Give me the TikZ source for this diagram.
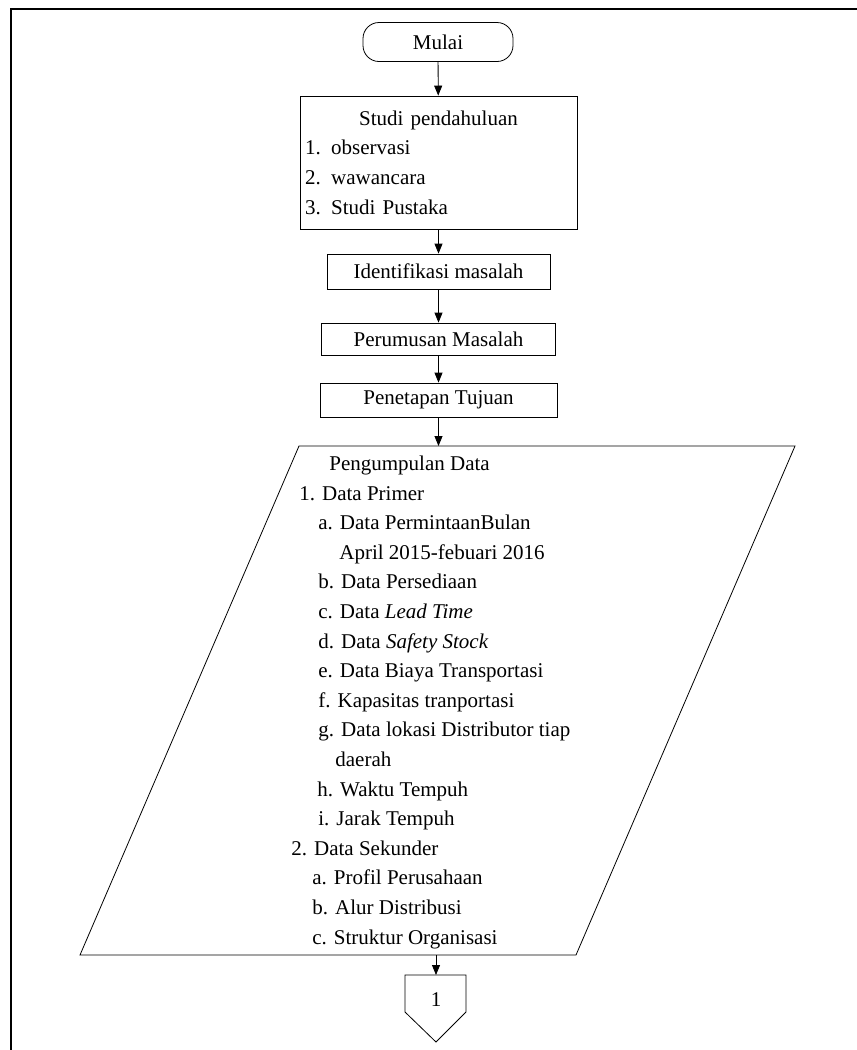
\documentclass[tikz,border=0pt]{standalone}
\usepackage{fontspec}
\setmainfont{Liberation Serif}
\usetikzlibrary{arrows.meta}

\begin{document}
\begin{tikzpicture}[x=1pt, y=-1pt, line width=0.8pt,
    every node/.style={font=\fontsize{21pt}{29.6pt}\selectfont},
    terminal/.style={draw, rounded corners=16pt, minimum width=150pt, minimum height=39pt, inner sep=0pt},
    process/.style={draw, minimum height=34pt, inner sep=0pt},
    arr/.style={-{Triangle[length=10pt,width=8pt]}}]
    \useasboundingbox (0,0) rectangle (857,1050);
    % frame
    \draw[line width=2pt] (11,1050) -- (11,9) -- (857,9);

    \node[terminal] (mulai) at (438,42) {Mulai};
    \node[process, minimum width=277pt, minimum height=133pt, text width=267pt, align=left] (studi) at (438.5,162.5)
        {\makebox[267pt][c]{Studi pendahuluan}\\1. observasi\\2. wawancara\\3. Studi Pustaka};
    \node[process, minimum width=223pt, minimum height=35pt] (ident) at (438.5,271.5) {Identifikasi masalah};
    \node[process, minimum width=234pt, minimum height=32pt] (rumus) at (438.5,339) {Perumusan Masalah};
    \node[process, minimum width=237pt, minimum height=34pt] (tujuan) at (438.5,400) {Penetapan Tujuan};

    % pengumpulan data
    \coordinate (dtop) at (438.5,446);
    \coordinate (dbot) at (436,955);
    \draw (299,446) -- (795,446) -- (576,955) -- (80,955) -- cycle;
    \node[anchor=north west, align=left, inner sep=0pt] (data) at (291,455.5) {%
        \hspace*{38pt}Pengumpulan Data\\
        \hspace*{8pt}1. Data Primer\\
        \hspace*{27pt}a. Data PermintaanBulan\\
        \hspace*{48pt}April 2015-febuari 2016\\
        \hspace*{27pt}b. Data Persediaan\\
        \hspace*{27pt}c. Data \textit{Lead Time}\\
        \hspace*{27pt}d. Data \textit{Safety Stock}\\
        \hspace*{27pt}e. Data Biaya Transportasi\\
        \hspace*{27pt}f. Kapasitas tranportasi\\
        \hspace*{27pt}g. Data lokasi Distributor tiap\\
        \hspace*{44pt}daerah\\
        \hspace*{26pt}h. Waktu Tempuh\\
        \hspace*{27pt}i. Jarak Tempuh\\
        2. Data Sekunder\\
        \hspace*{21pt}a. Profil Perusahaan\\
        \hspace*{21pt}b. Alur Distribusi\\
        \hspace*{21pt}c. Struktur Organisasi};

    % connector
    \coordinate (conn) at (436,975);
    \node[inner sep=0pt] (satu) at (436,1000) {1};
    \draw (405,975) -- (466,975) -- (466,1012) -- (436,1042) -- (405,1012) -- cycle;

    \draw[arr] (mulai) -- (studi);
    \draw[arr] (studi) -- (ident);
    \draw[arr] (ident) -- (rumus);
    \draw[arr] (rumus) -- (tujuan);
    \draw[arr] (tujuan) -- (dtop);
    \draw[arr] (dbot) -- (conn);
\end{tikzpicture}
\end{document}
